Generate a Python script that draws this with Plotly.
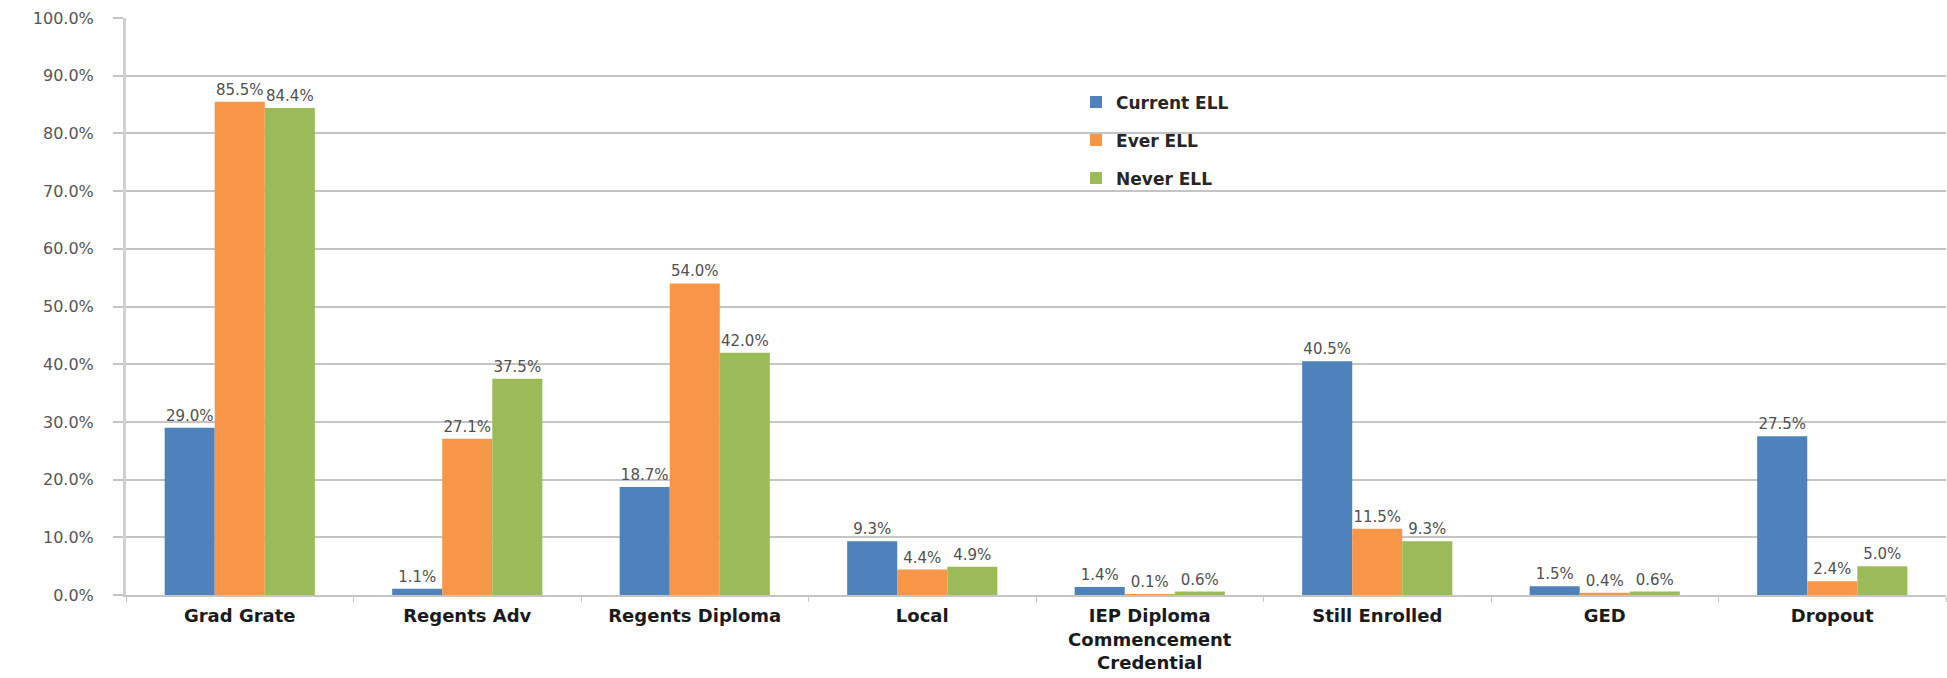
import plotly.graph_objects as go

categories = ["Grad Grate", "Regents Adv", "Regents Diploma", "Local",
              "IEP Diploma<br>Commencement<br>Credential", "Still Enrolled", "GED", "Dropout"]
current_ell = [29.0, 1.1, 18.7, 9.3, 1.4, 40.5, 1.5, 27.5]
ever_ell = [85.5, 27.1, 54.0, 4.4, 0.1, 11.5, 0.4, 2.4]
never_ell = [84.4, 37.5, 42.0, 4.9, 0.6, 9.3, 0.6, 5.0]
series_names = ["Current ELL", "Ever ELL", "Never ELL"]
colors = ["#4F81BD", "#F79646", "#9BBB59"]
y_ticks = [0, 10, 20, 30, 40, 50, 60, 70, 80, 90, 100]

fig = go.Figure()
for i, (name, vals, col) in enumerate(zip(series_names, [current_ell, ever_ell, never_ell], colors)):
    fig.add_trace(go.Bar(
        x=categories, y=vals, name=name, marker_color=col,
        marker_line_width=0,
        legendgroup=name,
        texttemplate="%{y:.1f}%", textposition="outside",
        textfont=dict(family="DejaVu Sans", size=15, color="#505050"),
        cliponaxis=False,
    ))

fig.update_layout(
    width=1947, height=678,
    margin=dict(l=126, r=1, t=18, b=83),
    plot_bgcolor="white", paper_bgcolor="white",
    barmode="group", bargap=0.34, bargroupgap=0,
    font=dict(family="DejaVu Sans", color="#404040"),
    legend=dict(
        x=0.522, y=0.885, xanchor="left", yanchor="top",
        font=dict(family="DejaVu Sans", size=17, color="#262626", weight="bold"),
        tracegroupgap=13, bgcolor="rgba(0,0,0,0)",
    ),
    showlegend=True,
)
fig.update_yaxes(
    range=[0, 100], tickvals=y_ticks,
    ticktext=[f"{v:.1f}%" for v in y_ticks],
    showgrid=True, gridcolor="#c4c4c4", gridwidth=1.5,
    ticks="outside", ticklen=10, tickcolor="#c4c4c4", tickwidth=1.5,
    ticklabelstandoff=16,
    tickfont=dict(family="DejaVu Sans", size=16, color="#555555"),
    showline=True, linecolor="#d0d0d0", linewidth=3,
    zeroline=False,
)
fig.update_xaxes(
    showline=True, linecolor="#c4c4c4", linewidth=1.5,
    ticks="outside", tickson="boundaries", ticklen=5, tickcolor="#c4c4c4",
    tickfont=dict(family="DejaVu Sans", size=18, color="#1a1a1a", weight="bold"),
    ticklabelstandoff=4,
)

fig.write_html("out.html")
